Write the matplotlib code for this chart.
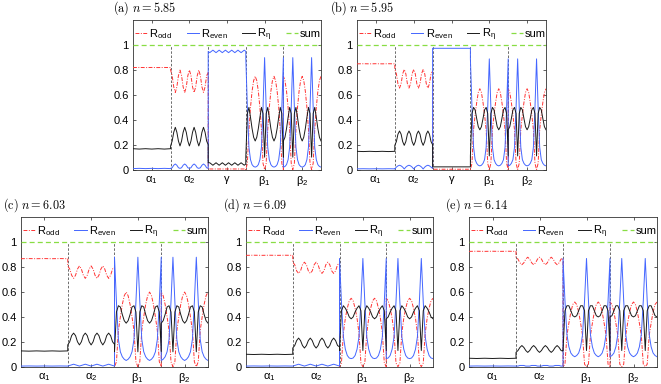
import numpy as np
import matplotlib
matplotlib.use("Agg")
import matplotlib.pyplot as plt

plt.rcParams["font.family"] = ["Liberation Sans", "DejaVu Sans"]
plt.rcParams["mathtext.fontset"] = "cm"

# panel tags and refractive index n
panel_tags = ["a", "b", "c", "d", "e"]
n_values = [5.85, 5.95, 6.03, 6.09, 6.14]

regions_ab = ["α1", "α2", "γ", "β1", "β2"]
regions_cde = ["α1", "α2", "β1", "β2"]

SUM_LEVEL = 1.0

# ---- (a) n = 5.85 : one sub-list per region, samples evenly spread across the region
odd_a = [
    [0.82, 0.821, 0.82, 0.821, 0.82, 0.821, 0.82],
    [0.80, 0.755, 0.665, 0.62, 0.665, 0.755, 0.80, 0.755, 0.665, 0.62, 0.665, 0.755,
     0.80, 0.755, 0.665, 0.62, 0.665, 0.755, 0.80, 0.755, 0.665, 0.62, 0.665, 0.755, 0.78],
    [0.005, 0.005, 0.005, 0.005, 0.005],
    [0.00, 0.05, 0.32, 0.50, 0.63, 0.715, 0.75, 0.715, 0.63, 0.50, 0.32, 0.05,
     0.00, 0.05, 0.32, 0.50, 0.63, 0.715, 0.75, 0.715, 0.63, 0.50, 0.32, 0.05, 0.00],
    [0.75, 0.715, 0.63, 0.50, 0.32, 0.05, 0.00, 0.05, 0.32, 0.50, 0.63, 0.715,
     0.75, 0.715, 0.63, 0.50, 0.32, 0.05, 0.00, 0.05, 0.32, 0.50, 0.63, 0.715, 0.75],
]
even_a = [
    [0.008, 0.01, 0.008, 0.01, 0.008, 0.01, 0.008],
    [0.01, 0.015, 0.035, 0.045, 0.035, 0.015, 0.01, 0.015, 0.035, 0.045, 0.035, 0.015,
     0.01, 0.015, 0.035, 0.045, 0.035, 0.015, 0.01, 0.015, 0.035, 0.045, 0.035, 0.015, 0.01],
    [0.95, 0.94, 0.95, 0.96, 0.95, 0.94, 0.95, 0.96, 0.95, 0.94, 0.95, 0.96,
     0.95, 0.94, 0.95, 0.96, 0.95, 0.94, 0.95, 0.96, 0.95, 0.94, 0.95, 0.96, 0.95],
    [0.90, 0.50, 0.18, 0.08, 0.04, 0.025, 0.02, 0.025, 0.04, 0.08, 0.18, 0.50,
     0.90, 0.50, 0.18, 0.08, 0.04, 0.025, 0.02, 0.025, 0.04, 0.08, 0.18, 0.50, 0.90],
    [0.02, 0.025, 0.04, 0.08, 0.18, 0.50, 0.90, 0.50, 0.18, 0.08, 0.04, 0.025,
     0.02, 0.025, 0.04, 0.08, 0.18, 0.50, 0.90, 0.50, 0.18, 0.08, 0.04, 0.025, 0.02],
]
eta_a = [
    [0.168, 0.165, 0.168, 0.165, 0.168, 0.165, 0.168],
    [0.19, 0.23, 0.30, 0.34, 0.30, 0.23, 0.19, 0.23, 0.30, 0.34, 0.30, 0.23,
     0.19, 0.23, 0.30, 0.34, 0.30, 0.23, 0.19, 0.23, 0.30, 0.34, 0.30, 0.23, 0.20],
    [0.055, 0.055, 0.045, 0.035, 0.045, 0.055, 0.045, 0.035, 0.045, 0.055, 0.045, 0.035,
     0.045, 0.055, 0.045, 0.035, 0.045, 0.055, 0.045, 0.035, 0.045, 0.055, 0.045, 0.035, 0.045],
    [0.10, 0.45, 0.50, 0.42, 0.33, 0.26, 0.23, 0.26, 0.33, 0.42, 0.50, 0.45,
     0.10, 0.45, 0.50, 0.42, 0.33, 0.26, 0.23, 0.26, 0.33, 0.42, 0.50, 0.45, 0.10],
    [0.23, 0.26, 0.33, 0.42, 0.50, 0.45, 0.10, 0.45, 0.50, 0.42, 0.33, 0.26,
     0.23, 0.26, 0.33, 0.42, 0.50, 0.45, 0.10, 0.45, 0.50, 0.42, 0.33, 0.26, 0.23],
]

# ---- (b) n = 5.95
odd_b = [
    [0.85, 0.851, 0.85, 0.851, 0.85, 0.851, 0.85],
    [0.805, 0.77, 0.69, 0.655, 0.69, 0.77, 0.805, 0.77, 0.69, 0.655, 0.69, 0.77,
     0.805, 0.77, 0.69, 0.655, 0.69, 0.77, 0.805, 0.77, 0.69, 0.655, 0.69, 0.77, 0.79],
    [0.003, 0.003, 0.003, 0.003, 0.003],
    [0.00, 0.05, 0.32, 0.44, 0.54, 0.62, 0.65, 0.62, 0.54, 0.44, 0.32, 0.05,
     0.00, 0.05, 0.32, 0.44, 0.54, 0.62, 0.65, 0.62, 0.54, 0.44, 0.32, 0.05, 0.00],
    [0.65, 0.62, 0.54, 0.44, 0.32, 0.05, 0.00, 0.05, 0.32, 0.44, 0.54, 0.62,
     0.65, 0.62, 0.54, 0.44, 0.32, 0.05, 0.00, 0.05, 0.32, 0.44, 0.54, 0.62, 0.65],
]
even_b = [
    [0.006, 0.007, 0.006, 0.007, 0.006, 0.007, 0.006],
    [0.005, 0.02, 0.03, 0.035, 0.03, 0.02, 0.005, 0.02, 0.03, 0.035, 0.03, 0.02,
     0.005, 0.02, 0.03, 0.035, 0.03, 0.02, 0.005, 0.02, 0.03, 0.035, 0.03, 0.02, 0.01],
    [0.975, 0.975, 0.975, 0.975, 0.975],
    [0.89, 0.50, 0.18, 0.08, 0.05, 0.035, 0.03, 0.035, 0.05, 0.08, 0.18, 0.50,
     0.89, 0.50, 0.18, 0.08, 0.05, 0.035, 0.03, 0.035, 0.05, 0.08, 0.18, 0.50, 0.89],
    [0.03, 0.035, 0.05, 0.08, 0.18, 0.50, 0.89, 0.50, 0.18, 0.08, 0.05, 0.035,
     0.03, 0.035, 0.05, 0.08, 0.18, 0.50, 0.89, 0.50, 0.18, 0.08, 0.05, 0.035, 0.03],
]
eta_b = [
    [0.147, 0.145, 0.147, 0.145, 0.147, 0.145, 0.147],
    [0.195, 0.225, 0.285, 0.31, 0.285, 0.225, 0.195, 0.225, 0.285, 0.31, 0.285, 0.225,
     0.195, 0.225, 0.285, 0.31, 0.285, 0.225, 0.195, 0.225, 0.285, 0.31, 0.285, 0.225, 0.20],
    [0.022, 0.022, 0.022, 0.022, 0.022],
    [0.11, 0.45, 0.50, 0.48, 0.41, 0.345, 0.32, 0.345, 0.41, 0.48, 0.50, 0.45,
     0.11, 0.45, 0.50, 0.48, 0.41, 0.345, 0.32, 0.345, 0.41, 0.48, 0.50, 0.45, 0.11],
    [0.32, 0.345, 0.41, 0.48, 0.50, 0.45, 0.11, 0.45, 0.50, 0.48, 0.41, 0.345,
     0.32, 0.345, 0.41, 0.48, 0.50, 0.45, 0.11, 0.45, 0.50, 0.48, 0.41, 0.345, 0.32],
]

# ---- (c) n = 6.03
odd_c = [
    [0.868, 0.869, 0.868, 0.869, 0.868, 0.869, 0.868],
    [0.81, 0.785, 0.735, 0.71, 0.735, 0.785, 0.81, 0.785, 0.735, 0.71, 0.735, 0.785,
     0.81, 0.785, 0.735, 0.71, 0.735, 0.785, 0.81, 0.785, 0.735, 0.71, 0.735, 0.785, 0.80],
    [0.00, 0.04, 0.29, 0.40, 0.50, 0.57, 0.60, 0.57, 0.50, 0.40, 0.29, 0.04,
     0.00, 0.04, 0.29, 0.40, 0.50, 0.57, 0.60, 0.57, 0.50, 0.40, 0.29, 0.04, 0.00],
    [0.60, 0.57, 0.50, 0.40, 0.29, 0.04, 0.00, 0.04, 0.29, 0.40, 0.50, 0.57,
     0.60, 0.57, 0.50, 0.40, 0.29, 0.04, 0.00, 0.04, 0.29, 0.40, 0.50, 0.57, 0.60],
]
even_c = [
    [0.005, 0.006, 0.005, 0.006, 0.005, 0.006, 0.005],
    [0.005, 0.01, 0.015, 0.02, 0.015, 0.01, 0.005, 0.01, 0.015, 0.02, 0.015, 0.01,
     0.005, 0.01, 0.015, 0.02, 0.015, 0.01, 0.005, 0.01, 0.015, 0.02, 0.015, 0.01, 0.005],
    [0.88, 0.52, 0.22, 0.12, 0.08, 0.06, 0.05, 0.06, 0.08, 0.12, 0.22, 0.52,
     0.88, 0.52, 0.22, 0.12, 0.08, 0.06, 0.05, 0.06, 0.08, 0.12, 0.22, 0.52, 0.88],
    [0.05, 0.06, 0.08, 0.12, 0.22, 0.52, 0.88, 0.52, 0.22, 0.12, 0.08, 0.06,
     0.05, 0.06, 0.08, 0.12, 0.22, 0.52, 0.88, 0.52, 0.22, 0.12, 0.08, 0.06, 0.05],
]
eta_c = [
    [0.127, 0.125, 0.127, 0.125, 0.127, 0.125, 0.127],
    [0.175, 0.20, 0.25, 0.27, 0.25, 0.20, 0.175, 0.20, 0.25, 0.27, 0.25, 0.20,
     0.175, 0.20, 0.25, 0.27, 0.25, 0.20, 0.175, 0.20, 0.25, 0.27, 0.25, 0.20, 0.18],
    [0.12, 0.44, 0.49, 0.48, 0.42, 0.37, 0.35, 0.37, 0.42, 0.48, 0.49, 0.44,
     0.12, 0.44, 0.49, 0.48, 0.42, 0.37, 0.35, 0.37, 0.42, 0.48, 0.49, 0.44, 0.12],
    [0.35, 0.37, 0.42, 0.48, 0.49, 0.44, 0.12, 0.44, 0.49, 0.48, 0.42, 0.37,
     0.35, 0.37, 0.42, 0.48, 0.49, 0.44, 0.12, 0.44, 0.49, 0.48, 0.42, 0.37, 0.35],
]

# ---- (d) n = 6.09
odd_d = [
    [0.895, 0.896, 0.895, 0.896, 0.895, 0.896, 0.895],
    [0.84, 0.82, 0.77, 0.75, 0.77, 0.82, 0.84, 0.82, 0.77, 0.75, 0.77, 0.82,
     0.84, 0.82, 0.77, 0.75, 0.77, 0.82, 0.84, 0.82, 0.77, 0.75, 0.77, 0.82, 0.83],
    [0.00, 0.03, 0.27, 0.39, 0.47, 0.53, 0.55, 0.53, 0.47, 0.39, 0.27, 0.03,
     0.00, 0.03, 0.27, 0.39, 0.47, 0.53, 0.55, 0.53, 0.47, 0.39, 0.27, 0.03, 0.00],
    [0.55, 0.53, 0.47, 0.39, 0.27, 0.03, 0.00, 0.03, 0.27, 0.39, 0.47, 0.53,
     0.55, 0.53, 0.47, 0.39, 0.27, 0.03, 0.00, 0.03, 0.27, 0.39, 0.47, 0.53, 0.55],
]
even_d = [
    [0.005, 0.006, 0.005, 0.006, 0.005, 0.006, 0.005],
    [0.005, 0.01, 0.015, 0.02, 0.015, 0.01, 0.005, 0.01, 0.015, 0.02, 0.015, 0.01,
     0.005, 0.01, 0.015, 0.02, 0.015, 0.01, 0.005, 0.01, 0.015, 0.02, 0.015, 0.01, 0.005],
    [0.87, 0.52, 0.24, 0.14, 0.09, 0.07, 0.065, 0.07, 0.09, 0.14, 0.24, 0.52,
     0.87, 0.52, 0.24, 0.14, 0.09, 0.07, 0.065, 0.07, 0.09, 0.14, 0.24, 0.52, 0.87],
    [0.065, 0.07, 0.09, 0.14, 0.24, 0.52, 0.87, 0.52, 0.24, 0.14, 0.09, 0.07,
     0.065, 0.07, 0.09, 0.14, 0.24, 0.52, 0.87, 0.52, 0.24, 0.14, 0.09, 0.07, 0.065],
]
eta_d = [
    [0.10, 0.098, 0.10, 0.098, 0.10, 0.098, 0.10],
    [0.15, 0.17, 0.21, 0.23, 0.21, 0.17, 0.15, 0.17, 0.21, 0.23, 0.21, 0.17,
     0.15, 0.17, 0.21, 0.23, 0.21, 0.17, 0.15, 0.17, 0.21, 0.23, 0.21, 0.17, 0.16],
    [0.13, 0.45, 0.49, 0.47, 0.44, 0.40, 0.385, 0.40, 0.44, 0.47, 0.49, 0.45,
     0.13, 0.45, 0.49, 0.47, 0.44, 0.40, 0.385, 0.40, 0.44, 0.47, 0.49, 0.45, 0.13],
    [0.385, 0.40, 0.44, 0.47, 0.49, 0.45, 0.13, 0.45, 0.49, 0.47, 0.44, 0.40,
     0.385, 0.40, 0.44, 0.47, 0.49, 0.45, 0.13, 0.45, 0.49, 0.47, 0.44, 0.40, 0.385],
]

# ---- (e) n = 6.14
odd_e = [
    [0.927, 0.928, 0.927, 0.928, 0.927, 0.928, 0.927],
    [0.88, 0.865, 0.835, 0.82, 0.835, 0.865, 0.88, 0.865, 0.835, 0.82, 0.835, 0.865,
     0.88, 0.865, 0.835, 0.82, 0.835, 0.865, 0.88, 0.865, 0.835, 0.82, 0.835, 0.865, 0.87],
    [0.00, 0.02, 0.25, 0.35, 0.44, 0.50, 0.52, 0.50, 0.44, 0.35, 0.25, 0.02,
     0.00, 0.02, 0.25, 0.35, 0.44, 0.50, 0.52, 0.50, 0.44, 0.35, 0.25, 0.02, 0.00],
    [0.52, 0.50, 0.44, 0.35, 0.25, 0.02, 0.00, 0.02, 0.25, 0.35, 0.44, 0.50,
     0.52, 0.50, 0.44, 0.35, 0.25, 0.02, 0.00, 0.02, 0.25, 0.35, 0.44, 0.50, 0.52],
]
even_e = [
    [0.005, 0.006, 0.005, 0.006, 0.005, 0.006, 0.005],
    [0.005, 0.005, 0.01, 0.01, 0.01, 0.005, 0.005, 0.005, 0.01, 0.01, 0.01, 0.005,
     0.005, 0.005, 0.01, 0.01, 0.01, 0.005, 0.005, 0.005, 0.01, 0.01, 0.01, 0.005, 0.005],
    [0.87, 0.53, 0.26, 0.16, 0.11, 0.09, 0.08, 0.09, 0.11, 0.16, 0.26, 0.53,
     0.87, 0.53, 0.26, 0.16, 0.11, 0.09, 0.08, 0.09, 0.11, 0.16, 0.26, 0.53, 0.87],
    [0.08, 0.09, 0.11, 0.16, 0.26, 0.53, 0.87, 0.53, 0.26, 0.16, 0.11, 0.09,
     0.08, 0.09, 0.11, 0.16, 0.26, 0.53, 0.87, 0.53, 0.26, 0.16, 0.11, 0.09, 0.08],
]
eta_e = [
    [0.068, 0.066, 0.068, 0.066, 0.068, 0.066, 0.068],
    [0.115, 0.13, 0.155, 0.17, 0.155, 0.13, 0.115, 0.13, 0.155, 0.17, 0.155, 0.13,
     0.115, 0.13, 0.155, 0.17, 0.155, 0.13, 0.115, 0.13, 0.155, 0.17, 0.155, 0.13, 0.125],
    [0.13, 0.45, 0.49, 0.49, 0.45, 0.41, 0.40, 0.41, 0.45, 0.49, 0.49, 0.45,
     0.13, 0.45, 0.49, 0.49, 0.45, 0.41, 0.40, 0.41, 0.45, 0.49, 0.49, 0.45, 0.13],
    [0.40, 0.41, 0.45, 0.49, 0.49, 0.45, 0.13, 0.45, 0.49, 0.49, 0.45, 0.41,
     0.40, 0.41, 0.45, 0.49, 0.49, 0.45, 0.13, 0.45, 0.49, 0.49, 0.45, 0.41, 0.40],
]

# axes boxes in pixels: left, top, width, height  (figure is 661 x 384)
W, H = 661, 384
boxes = {
    "a": (133, 20.3, 188, 149.3),
    "b": (357, 20.3, 189, 149.3),
    "c": (21, 217.4, 187, 149.3),
    "d": (246, 217.4, 187, 149.3),
    "e": (469, 217.4, 188, 149.3),
}
title_pos = {"a": (113, 7.7), "b": (330, 7.7), "c": (3, 205), "d": (223, 205), "e": (445, 205)}

RED, BLUE, BLACK, GREEN = "#ff3333", "#4466ff", "#1a1a1a", "#88dd44"
FS = 8.0


def region_label(name):
    if len(name) > 1:
        return name[0] + r"$_\mathregular{" + name[1:] + "}$"
    return name


def draw_panel(ax, regions, odd, even, eta):
    nreg = len(regions)
    styles = [
        (odd, dict(color=RED, lw=0.7, ls=(0, (4, 1.5, 1, 1.5)), label=r"R$_\mathregular{odd}$")),
        (even, dict(color=BLUE, lw=0.7, ls="-", label=r"R$_\mathregular{even}$")),
        (eta, dict(color=BLACK, lw=0.7, ls="-", label=r"R$_\mathregular{η}$")),
    ]
    for curve, st in styles:
        xs, ys = [], []
        for i, seg in enumerate(curve):
            xs.extend(np.linspace(i, i + 1, len(seg)))
            ys.extend(seg)
        ax.plot(xs, ys, zorder=3, **st)
    ax.plot([0, nreg], [SUM_LEVEL, SUM_LEVEL], color=GREEN, lw=0.9,
            ls=(0, (4, 2.5)), label="sum", zorder=4)
    ax.vlines(np.arange(1, nreg), 0, SUM_LEVEL, colors="#555555", lw=0.6,
              linestyles=(0, (3, 2)), zorder=2)

    ax.set_xlim(0, nreg)
    ax.set_ylim(0, 1.2)
    ax.set_xticks(np.arange(nreg) + 0.5)
    ax.set_xticklabels([region_label(r) for r in regions])
    ax.set_yticks([0, 0.2, 0.4, 0.6, 0.8, 1.0])
    ax.set_yticklabels(["0", "0.2", "0.4", "0.6", "0.8", "1"])
    ax.tick_params(direction="in", length=2.5, width=0.5, top=True, right=True,
                   labelsize=FS, pad=3, colors="#222222", labelcolor="black")
    for sp in ax.spines.values():
        sp.set_linewidth(0.6)
        sp.set_color("#333333")
    ax.legend(loc="lower left", bbox_to_anchor=(0.01, 0.85, 0.99, 0.12), mode="expand",
              ncol=4, frameon=False, handlelength=1.1, handletextpad=0.2,
              borderaxespad=0, borderpad=0, fontsize=FS)


fig = plt.figure(figsize=(W / 100, H / 100), dpi=100)
fig.patch.set_facecolor("white")

panel_data = {
    "a": (regions_ab, odd_a, even_a, eta_a),
    "b": (regions_ab, odd_b, even_b, eta_b),
    "c": (regions_cde, odd_c, even_c, eta_c),
    "d": (regions_cde, odd_d, even_d, eta_d),
    "e": (regions_cde, odd_e, even_e, eta_e),
}

for tag, n in zip(panel_tags, n_values):
    left, top, w, h = boxes[tag]
    ax = fig.add_axes([left / W, 1 - (top + h) / H, w / W, h / H])
    draw_panel(ax, *panel_data[tag])
    tx, ty = title_pos[tag]
    fig.text(tx / W, 1 - ty / H, r"$\mathrm{(%s)}\ n = %.2f$" % (tag, n),
             fontsize=8.8, ha="left", va="center")

fig.savefig("out.png", dpi=100)
